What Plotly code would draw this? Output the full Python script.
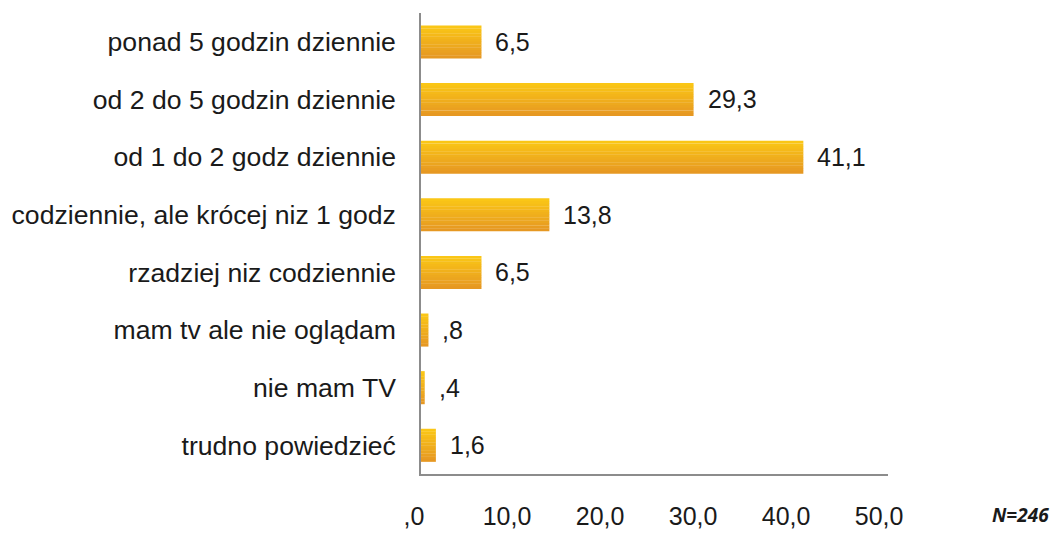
import plotly.graph_objects as go

categories = [
    "ponad 5 godzin dziennie",
    "od 2 do 5 godzin dziennie",
    "od 1 do 2 godz dziennie",
    "codziennie, ale krócej niz 1 godz",
    "rzadziej niz codziennie",
    "mam tv ale nie oglądam",
    "nie mam TV",
    "trudno powiedzieć",
]
values = [6.5, 29.3, 41.1, 13.8, 6.5, 0.8, 0.4, 1.6]
labels = ["6,5", "29,3", "41,1", "13,8", "6,5", ",8", ",4", "1,6"]
tick_vals = [0, 10, 20, 30, 40, 50]
tick_text = [",0", "10,0", "20,0", "30,0", "40,0", "50,0"]
note = "N=246"

FONT = "Liberation Sans, Arial, sans-serif"
FS = 25

fig = go.Figure()

# gradient-like fill using thin horizontal bands (top yellow -> bottom orange)
bar_w = 0.57
n_bands = 12
top_rgb = (250, 198, 22)
bot_rgb = (230, 152, 34)
for k in range(n_bands):
    t = k / (n_bands - 1)
    r = round(top_rgb[0] + (bot_rgb[0] - top_rgb[0]) * t)
    g = round(top_rgb[1] + (bot_rgb[1] - top_rgb[1]) * t)
    b = round(top_rgb[2] + (bot_rgb[2] - top_rgb[2]) * t)
    fig.add_trace(go.Bar(
        y=categories, x=values, orientation="h",
        width=bar_w / n_bands + 0.004,
        offset=-bar_w / 2 + k * bar_w / n_bands,
        marker=dict(color=f"rgb({r},{g},{b})", line=dict(width=0)),
        hoverinfo="skip", showlegend=False,
    ))

for c, v, lab in zip(categories, values, labels):
    fig.add_annotation(
        x=v, y=c, text=lab, showarrow=False, xanchor="left", xshift=12,
        font=dict(family=FONT, size=FS, color="#1a1a1a"),
    )

fig.add_annotation(
    x=1.0, y=0.0, xref="paper", yref="paper", xanchor="right", yanchor="middle",
    text=f"<b><i>{note}</i></b>", showarrow=False, xshift=163, yshift=-41,
    font=dict(family="Open Sans, sans-serif", size=19, color="#1a1a1a"),
)

fig.update_layout(
    width=1054, height=533,
    margin=dict(l=421, r=166, t=13, b=59, autoexpand=False),
    paper_bgcolor="white", plot_bgcolor="white",
    barmode="overlay",
    font=dict(family=FONT, size=FS, color="#1a1a1a"),
    xaxis=dict(
        range=[0, 50.2], tickvals=tick_vals, ticktext=tick_text,
        showgrid=False, zeroline=False, showline=True, linecolor="#8c8c8c",
        linewidth=1.5, ticks="", ticklabelstandoff=19, ticklabelshift=-7,
        automargin=False,
        tickfont=dict(family=FONT, size=FS, color="#1a1a1a"),
    ),
    yaxis=dict(
        autorange="reversed", showgrid=False, zeroline=False, showline=True,
        linecolor="#8c8c8c", linewidth=1.5, ticks="", ticklabelstandoff=18,
        automargin=False,
        tickfont=dict(family=FONT, size=26.6, color="#1a1a1a"),
    ),
)

fig.write_html(
    "out.html",
    config={"displayModeBar": False},
    post_script="document.body.style.margin='0';document.body.style.overflow='hidden';",
)
